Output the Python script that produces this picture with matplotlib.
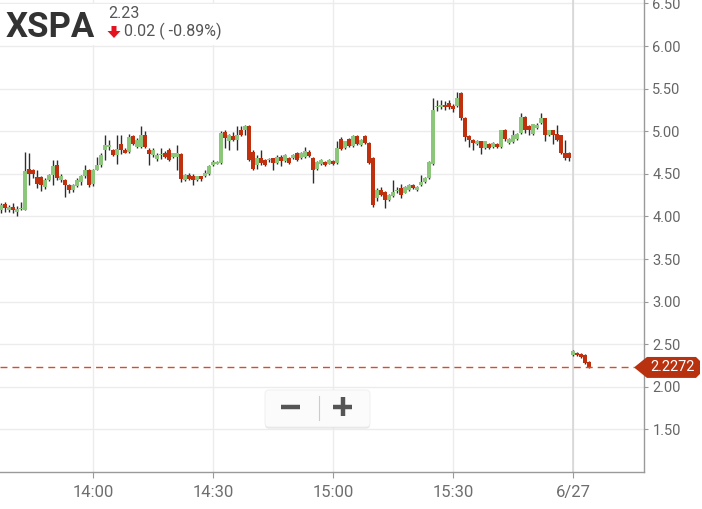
import numpy as np
import matplotlib
matplotlib.use("Agg")
import matplotlib.pyplot as plt
from matplotlib import font_manager
from matplotlib.patches import Polygon, Rectangle, FancyBboxPatch
from matplotlib.lines import Line2D
from matplotlib.transforms import Affine2D

plt.rcParams['font.family'] = ['Roboto', 'DejaVu Sans']

# 1-minute candles, 13:37 -> 15:59, then 6/27 open
opens = [4.08, 4.14, 4.08, 4.11, 4.05, 4.09, 4.08, 4.56, 4.55, 4.46,
         4.46, 4.35, 4.43, 4.49, 4.60, 4.43, 4.43, 4.37, 4.31, 4.36,
         4.40, 4.48, 4.54, 4.38, 4.55, 4.60, 4.78, 4.82, 4.78, 4.72,
         4.85, 4.78, 4.76, 4.94, 4.81, 4.81, 4.96, 4.78, 4.72, 4.67,
         4.72, 4.75, 4.78, 4.70, 4.70, 4.73, 4.43, 4.49, 4.47, 4.43,
         4.47, 4.47, 4.50, 4.60, 4.62, 4.63, 4.99, 4.88, 4.94, 4.90,
         5.01, 5.01, 5.06, 4.76, 4.60, 4.68, 4.66, 4.66, 4.68, 4.63,
         4.70, 4.65, 4.68, 4.68, 4.74, 4.68, 4.70, 4.76, 4.68, 4.56,
         4.61, 4.64, 4.62, 4.65, 4.63, 4.91, 4.80, 4.91, 4.83, 4.94,
         4.84, 4.94, 4.86, 4.68, 4.22, 4.31, 4.29, 4.19, 4.24, 4.30,
         4.33, 4.28, 4.31, 4.37, 4.31, 4.37, 4.40, 4.45, 4.62, 5.28,
         5.28, 5.31, 5.33, 5.30, 5.29, 5.45, 5.16, 4.94, 4.90, 4.85,
         4.88, 4.80, 4.85, 4.81, 4.85, 4.81, 5.01, 4.86, 4.87, 4.91,
         4.98, 5.17, 5.06, 4.97, 5.04, 5.10, 5.15, 4.95, 5.01, 4.97,
         4.95, 4.74, 4.75,
         2.37, 2.40, 2.39, 2.37, 2.29]
highs = [4.16, 4.17, 4.13, 4.16, 4.12, 4.17, 4.76, 4.75, 4.56, 4.55,
         4.47, 4.45, 4.50, 4.66, 4.66, 4.50, 4.44, 4.38, 4.38, 4.45,
         4.49, 4.60, 4.56, 4.56, 4.70, 4.74, 4.95, 4.90, 4.79, 4.95,
         4.95, 4.80, 4.97, 4.96, 4.92, 5.06, 5.00, 4.80, 4.80, 4.74,
         4.80, 4.77, 4.80, 4.75, 4.84, 4.75, 4.50, 4.51, 4.50, 4.48,
         4.48, 4.54, 4.60, 4.66, 4.65, 5.00, 5.01, 4.97, 4.99, 5.06,
         5.06, 5.07, 5.07, 4.78, 4.72, 4.78, 4.67, 4.69, 4.69, 4.72,
         4.72, 4.73, 4.70, 4.73, 4.76, 4.76, 4.81, 4.78, 4.70, 4.65,
         4.67, 4.65, 4.67, 4.66, 4.88, 4.93, 4.89, 4.92, 4.96, 4.95,
         4.91, 4.95, 4.87, 4.70, 4.33, 4.34, 4.30, 4.26, 4.43, 4.35,
         4.38, 4.36, 4.38, 4.38, 4.36, 4.49, 4.46, 4.65, 5.39, 5.37,
         5.37, 5.35, 5.37, 5.32, 5.46, 5.46, 5.17, 4.96, 4.91, 4.90,
         4.89, 4.89, 4.86, 4.87, 4.86, 5.02, 5.03, 4.92, 5.01, 4.98,
         5.21, 5.18, 5.07, 5.09, 5.10, 5.21, 5.16, 5.02, 5.02, 5.07,
         4.96, 4.90, 4.76,
         2.43, 2.41, 2.40, 2.38, 2.30]
lows = [4.04, 4.05, 4.05, 4.04, 4.01, 4.07, 4.07, 4.37, 4.45, 4.33,
        4.30, 4.32, 4.42, 4.37, 4.43, 4.40, 4.23, 4.28, 4.29, 4.34,
        4.37, 4.45, 4.35, 4.36, 4.54, 4.58, 4.66, 4.78, 4.71, 4.62,
        4.73, 4.74, 4.75, 4.84, 4.80, 4.80, 4.80, 4.60, 4.70, 4.65,
        4.67, 4.69, 4.65, 4.69, 4.55, 4.40, 4.42, 4.43, 4.37, 4.42,
        4.42, 4.46, 4.49, 4.59, 4.61, 4.62, 4.80, 4.78, 4.88, 4.78,
        4.94, 4.96, 4.65, 4.55, 4.56, 4.60, 4.59, 4.64, 4.55, 4.61,
        4.59, 4.64, 4.62, 4.67, 4.65, 4.67, 4.69, 4.70, 4.39, 4.55,
        4.60, 4.59, 4.61, 4.60, 4.62, 4.78, 4.79, 4.82, 4.82, 4.84,
        4.83, 4.85, 4.62, 4.11, 4.18, 4.24, 4.10, 4.18, 4.23, 4.27,
        4.22, 4.27, 4.30, 4.32, 4.30, 4.36, 4.39, 4.44, 4.60, 5.24,
        5.26, 5.25, 5.26, 5.23, 5.28, 5.13, 4.88, 4.82, 4.78, 4.84,
        4.73, 4.79, 4.79, 4.80, 4.80, 4.80, 4.88, 4.85, 4.86, 4.90,
        4.97, 4.98, 4.95, 4.96, 5.03, 5.09, 4.88, 4.94, 4.85, 4.89,
        4.73, 4.66, 4.65,
        2.36, 2.36, 2.34, 2.27, 2.22]
closes = [4.13, 4.10, 4.11, 4.07, 4.09, 4.10, 4.53, 4.50, 4.50, 4.38,
          4.37, 4.43, 4.49, 4.59, 4.45, 4.48, 4.37, 4.31, 4.37, 4.43,
          4.48, 4.55, 4.37, 4.55, 4.60, 4.72, 4.84, 4.84, 4.72, 4.79,
          4.78, 4.75, 4.93, 4.85, 4.90, 4.96, 4.81, 4.73, 4.78, 4.72,
          4.73, 4.70, 4.66, 4.74, 4.74, 4.44, 4.49, 4.44, 4.43, 4.47,
          4.44, 4.51, 4.59, 4.64, 4.64, 4.98, 4.92, 4.95, 4.90, 4.95,
          4.95, 5.06, 4.66, 4.56, 4.69, 4.63, 4.60, 4.665, 4.63, 4.70,
          4.65, 4.72, 4.63, 4.72, 4.66, 4.74, 4.77, 4.71, 4.55, 4.64,
          4.66, 4.60, 4.66, 4.61, 4.80, 4.79, 4.88, 4.83, 4.94, 4.85,
          4.90, 4.86, 4.63, 4.13, 4.31, 4.25, 4.19, 4.25, 4.29, 4.305,
          4.25, 4.35, 4.37, 4.33, 4.35, 4.40, 4.45, 4.64, 5.25, 5.29,
          5.31, 5.28, 5.28, 5.26, 5.39, 5.15, 4.93, 4.90, 4.86, 4.89,
          4.80, 4.88, 4.80, 4.86, 4.81, 5.01, 4.91, 4.91, 4.96, 4.97,
          5.17, 5.01, 5.01, 5.08, 5.07, 5.16, 4.96, 5.01, 4.95, 4.90,
          4.74, 4.69, 4.68,
          2.42, 2.37, 2.35, 2.28, 2.23]

tick_pos = [23, 53, 83, 113, 143]
tick_labels = ['14:00', '14:30', '15:00', '15:30', '6/27']
y_ticks = [1.5, 2.0, 2.5, 3.0, 3.5, 4.0, 4.5, 5.0, 5.5, 6.0, 6.5]
last_price = 2.2272
symbol = 'XSPA'
quote = '2.23'
change = '0.02 ( -0.89%)'

GREEN = '#8cc67a'
RED = '#bf300e'
WICK = '#2e2e2e'

fig = plt.figure(figsize=(7.02, 5.09), dpi=100)
ax = fig.add_axes([0, 0.0727, 644 / 702, 1 - 0.0727])

o = np.array(opens)
h = np.array(highs)
l = np.array(lows)
c = np.array(closes)
x = np.arange(len(o))
up = c >= o
cols = np.where(up, GREEN, RED)

# wicks then bodies
ax.vlines(x - 0.1, l, h, color=WICK, lw=1.0, zorder=2)
body_lo = np.minimum(o, c)
body_h = np.maximum(np.abs(c - o), 0.012)
ax.bar(x, body_h, bottom=body_lo, width=0.82, color=cols, lw=0, zorder=3)

ax.set_xlim(-0.25, 160.75)
ax.set_ylim(1.0, 6.54)

# grid + axes styling
ax.set_axisbelow(True)
ax.grid(True, color='#ececec', lw=1)
ax.axvline(143, color='#d4d4d4', lw=1.1, zorder=1)
for s in ['left', 'top']:
    ax.spines[s].set_visible(False)
for s in ['right', 'bottom']:
    ax.spines[s].set_color('#9a9a9a')
    ax.spines[s].set_linewidth(1)

ax.yaxis.tick_right()
ax.set_yticks(y_ticks)
ax.set_yticklabels([f'{v:.2f}' for v in y_ticks])
ax.tick_params(axis='y', length=3, width=0.8, color='#9a9a9a',
               labelcolor='#666666', labelsize=10.5, pad=3)
ax.set_xticks(tick_pos)
ax.set_xticklabels(tick_labels)
ax.tick_params(axis='x', length=4.5, width=0.8, color='#9a9a9a',
               labelcolor='#6e6e6e', labelsize=12, pad=5)

# last price line + tag
ax.axhline(last_price, xmin=0, xmax=634 / 644, color='#da4a2c', lw=1,
           ls=(0, (5, 3.6)), zorder=4)
yt = ax.get_yaxis_transform()
hh = 0.123
cy = 0.047
tag = Polygon([(634 / 644, last_price), (647 / 644, last_price + hh),
               (696 / 644, last_price + hh), (700 / 644, last_price + hh - cy),
               (700 / 644, last_price - hh + cy), (696 / 644, last_price - hh),
               (647 / 644, last_price - hh)],
              closed=True, transform=yt, facecolor='#b83210', edgecolor='none',
              clip_on=False, zorder=5)
ax.add_patch(tag)
ax.text(673 / 644, last_price, f'{last_price:.4f}', transform=yt, ha='center',
        va='center', color='white', fontsize=10.5, clip_on=False, zorder=6)

# pixel coords (from bottom-left) for the overlays
px = Affine2D().scale(1 / 702, 1 / 509) + fig.transFigure


def fy(y_top):
    return 509 - y_top


# condensed face for the symbol if we have one
names = {f.name for f in font_manager.fontManager.ttflist}
if 'Liberation Sans Narrow' in names:
    title_font, title_size = 'Liberation Sans Narrow', 29
else:
    title_font, title_size = 'Roboto', 25

# header box
fig.add_artist(Rectangle((0, fy(45)), 240, 41, transform=px,
                         facecolor='white', edgecolor='none', zorder=5))
fig.text(6 / 702, fy(37) / 509, symbol, fontsize=title_size, fontweight='bold',
         family=title_font, color='#333333', va='baseline', ha='left', zorder=6)
fig.text(108 / 702, fy(18.5) / 509, quote, fontsize=11.5, color='#555555',
         va='baseline', ha='left', zorder=6)
fig.text(124 / 702, fy(36.5) / 509, change, fontsize=11.5, color='#555555',
         va='baseline', ha='left', zorder=6)
arrow = Polygon([(111.5, fy(26)), (116.5, fy(26)), (116.5, fy(31)),
                 (120.5, fy(31)), (114, fy(38)), (107.5, fy(31)),
                 (111.5, fy(31))], closed=True, transform=px,
                facecolor='#e3141f', edgecolor='none', zorder=6)
fig.add_artist(arrow)

# zoom buttons
fig.add_artist(FancyBboxPatch((265, fy(428.5)), 105, 37, transform=px,
                              boxstyle='round,pad=0,rounding_size=4',
                              facecolor='#d9d9d9', edgecolor='none',
                              alpha=0.7, zorder=5))
fig.add_artist(FancyBboxPatch((265, fy(427)), 105, 37, transform=px,
                              boxstyle='round,pad=0,rounding_size=4',
                              facecolor='#fbfbfb', edgecolor='#eeeeee',
                              lw=0.6, zorder=6))
fig.add_artist(Line2D([281, 300], [fy(406.5), fy(406.5)], transform=px,
                      color='#555555', lw=3.2, solid_capstyle='butt', zorder=7))
fig.add_artist(Line2D([319, 319], [fy(396), fy(420)], transform=px,
                      color='#cccccc', lw=0.8, zorder=7))
fig.add_artist(Line2D([333, 352], [fy(406.5), fy(406.5)], transform=px,
                      color='#555555', lw=3.2, solid_capstyle='butt', zorder=7))
fig.add_artist(Line2D([342.5, 342.5], [fy(397), fy(416)], transform=px,
                      color='#555555', lw=3.2, solid_capstyle='butt', zorder=7))

fig.savefig('out.png', dpi=100)
